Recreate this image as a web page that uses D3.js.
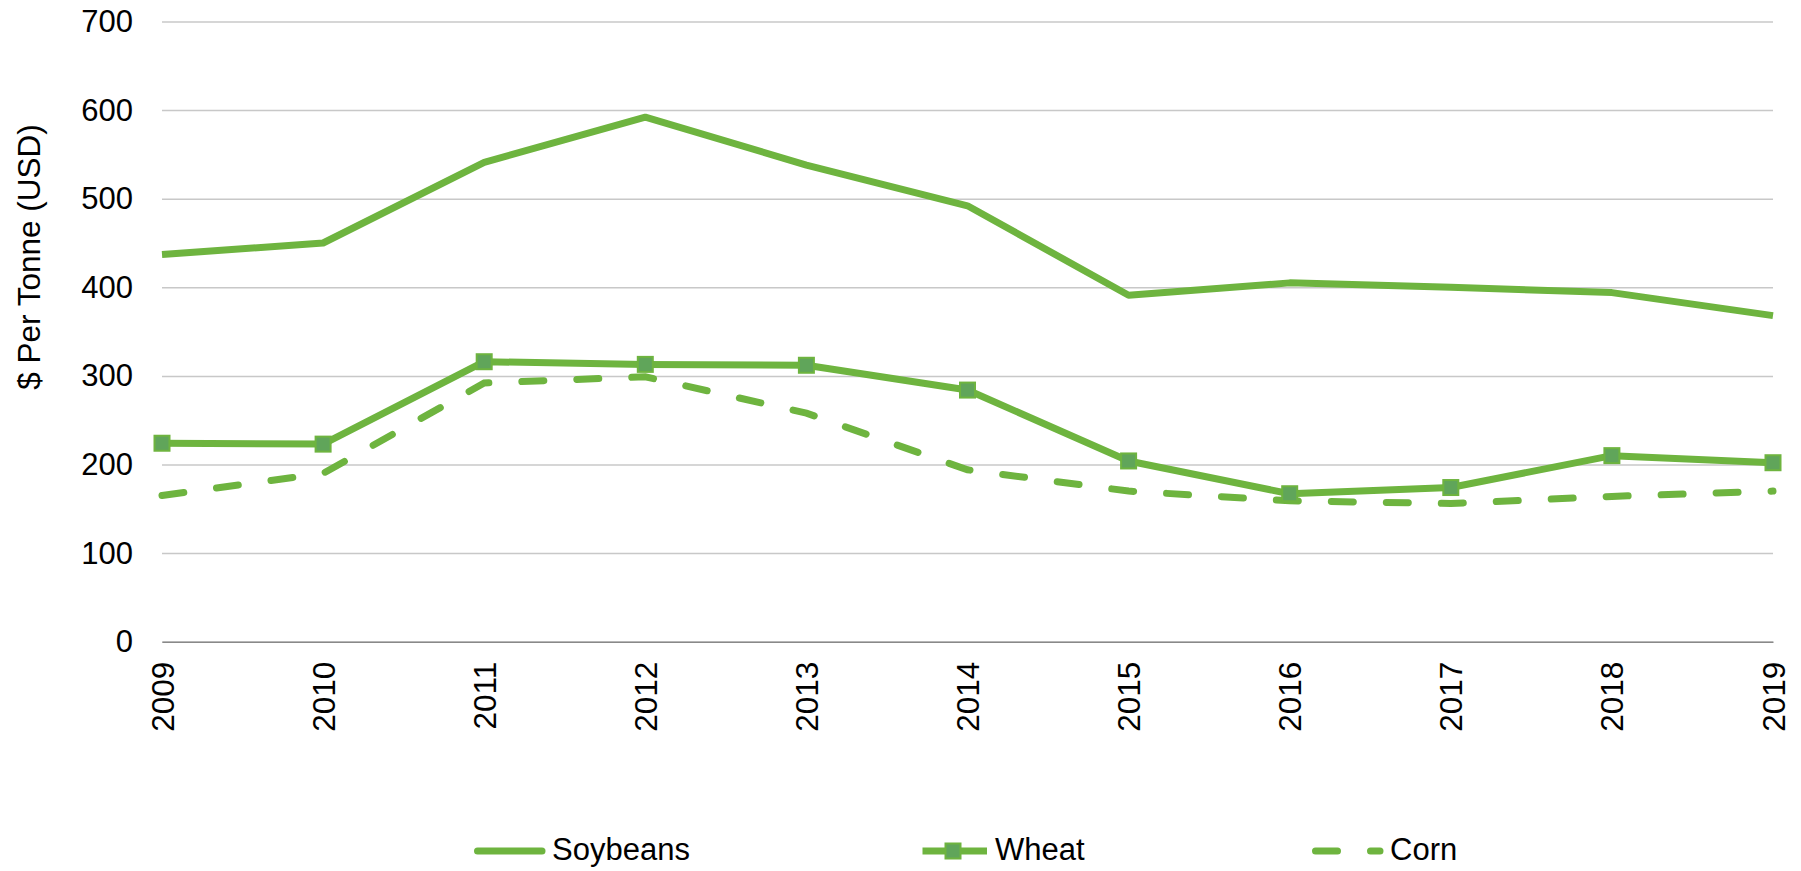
<!DOCTYPE html>
<html>
<head>
<meta charset="utf-8">
<style>
body { margin: 0; background: #fff; }
text { font-family: "Liberation Sans", Arial, sans-serif; fill: #000; }
.grid line { stroke: #c8c8c8; stroke-width: 1.5; }
</style>
</head>
<body>
<div id="ch1"></div>
<script src="https://d3js.org/d3.v7.min.js"></script>
<script>

var years = ["2009","2010","2011","2012","2013","2014","2015","2016","2017","2018","2019"];
var soybeans = [437, 450, 541, 592, 538, 492, 391, 405, 400, 394, 368];
var wheat = [224, 223, 316, 313, 312, 284, 204, 167, 174, 210, 202];
var corn = [165, 190, 292, 299, 258, 194, 170, 159, 156, 164, 170];
var yTicks = [0, 100, 200, 300, 400, 500, 600, 700];
var seriesNames = ["Soybeans", "Wheat", "Corn"];

var green = "#6eb43f";
var markerFill = "#60a55a";

var W = 1801, H = 871;
var margin = {top: 21.5, right: 28, bottom: 229.3, left: 162},
    width = W - margin.left - margin.right,
    height = H - margin.top - margin.bottom;

var svg = d3.select("#ch1")
  .append("svg")
  .attr("width", W)
  .attr("height", H);

var g = svg.append("g")
  .attr("transform", "translate(" + margin.left + "," + margin.top + ")");

var x = d3.scalePoint()
  .domain(years)
  .range([0, width]);

var y = d3.scaleLinear()
  .domain([0, 700])
  .range([height, 0]);

// gridlines + y labels
g.append("g")
  .attr("class", "grid")
  .call(d3.axisLeft(y).tickValues(yTicks).tickSize(-width).tickPadding(29))
  .call(a => a.select(".domain").remove())
  .call(a => a.selectAll("text").attr("font-size", "31px").attr("fill", "#000"));

// x axis line
g.append("g")
  .attr("transform", "translate(0," + height + ")")
  .call(d3.axisBottom(x).tickSize(0).tickPadding(20))
  .call(a => a.select(".domain").attr("stroke", "#898989").attr("stroke-width", 1.5))
  .call(a => a.selectAll("text")
    .attr("font-size", "31.5px")
    .attr("fill", "#000")
    .attr("transform", "rotate(-90)")
    .attr("text-anchor", "end")
    .attr("x", -20)
    .attr("y", 0)
    .attr("dy", "0.35em"));

// y title
svg.append("text")
  .attr("transform", "translate(29,257) rotate(-90)")
  .attr("text-anchor", "middle")
  .attr("dy", "0.35em")
  .attr("font-size", "31.5px")
  .text("$ Per Tonne (USD)");

var line = d3.line()
  .x((d, i) => x(years[i]))
  .y(d => y(d));

g.append("path")
  .datum(soybeans)
  .attr("fill", "none")
  .attr("stroke", green)
  .attr("stroke-width", 7)
  .attr("stroke-linejoin", "round")
  .attr("d", line);

g.append("path")
  .datum(corn)
  .attr("fill", "none")
  .attr("stroke", green)
  .attr("stroke-width", 7)
  .attr("stroke-linecap", "round")
  .attr("stroke-dasharray", "22,33")
  .attr("d", line);

g.append("path")
  .datum(wheat)
  .attr("fill", "none")
  .attr("stroke", green)
  .attr("stroke-width", 7)
  .attr("stroke-linejoin", "round")
  .attr("d", line);

g.selectAll(".mk")
  .data(wheat)
  .enter().append("rect")
    .attr("class", "mk")
    .attr("x", (d, i) => x(years[i]) - 7.5)
    .attr("y", d => y(d) - 7.5)
    .attr("width", 15)
    .attr("height", 15)
    .attr("fill", markerFill)
    .attr("stroke", green)
    .attr("stroke-width", 2);

// legend
var legX = [474, 919, 1312];
var legY = 851;
var leg = svg.append("g");

seriesNames.forEach(function(name, i) {
  var lg = leg.append("g").attr("transform", "translate(" + legX[i] + "," + legY + ")");
  lg.append("line")
    .attr("x1", 3.5).attr("x2", 68)
    .attr("stroke", green)
    .attr("stroke-width", 7)
    .attr("stroke-linecap", i == 1 ? "butt" : "round")
    .attr("stroke-dasharray", i == 2 ? "22,33" : null);
  if (i == 1) {
    lg.append("rect")
      .attr("x", 34 - 7.5).attr("y", -7.5)
      .attr("width", 15).attr("height", 15)
      .attr("fill", markerFill)
      .attr("stroke", green)
      .attr("stroke-width", 2);
  }
  lg.append("text")
    .attr("x", i == 0 ? 78 : (i == 1 ? 76 : 78))
    .attr("dy", "0.3em")
    .attr("font-size", "31px")
    .text(name);
});

</script>
</body>
</html>
